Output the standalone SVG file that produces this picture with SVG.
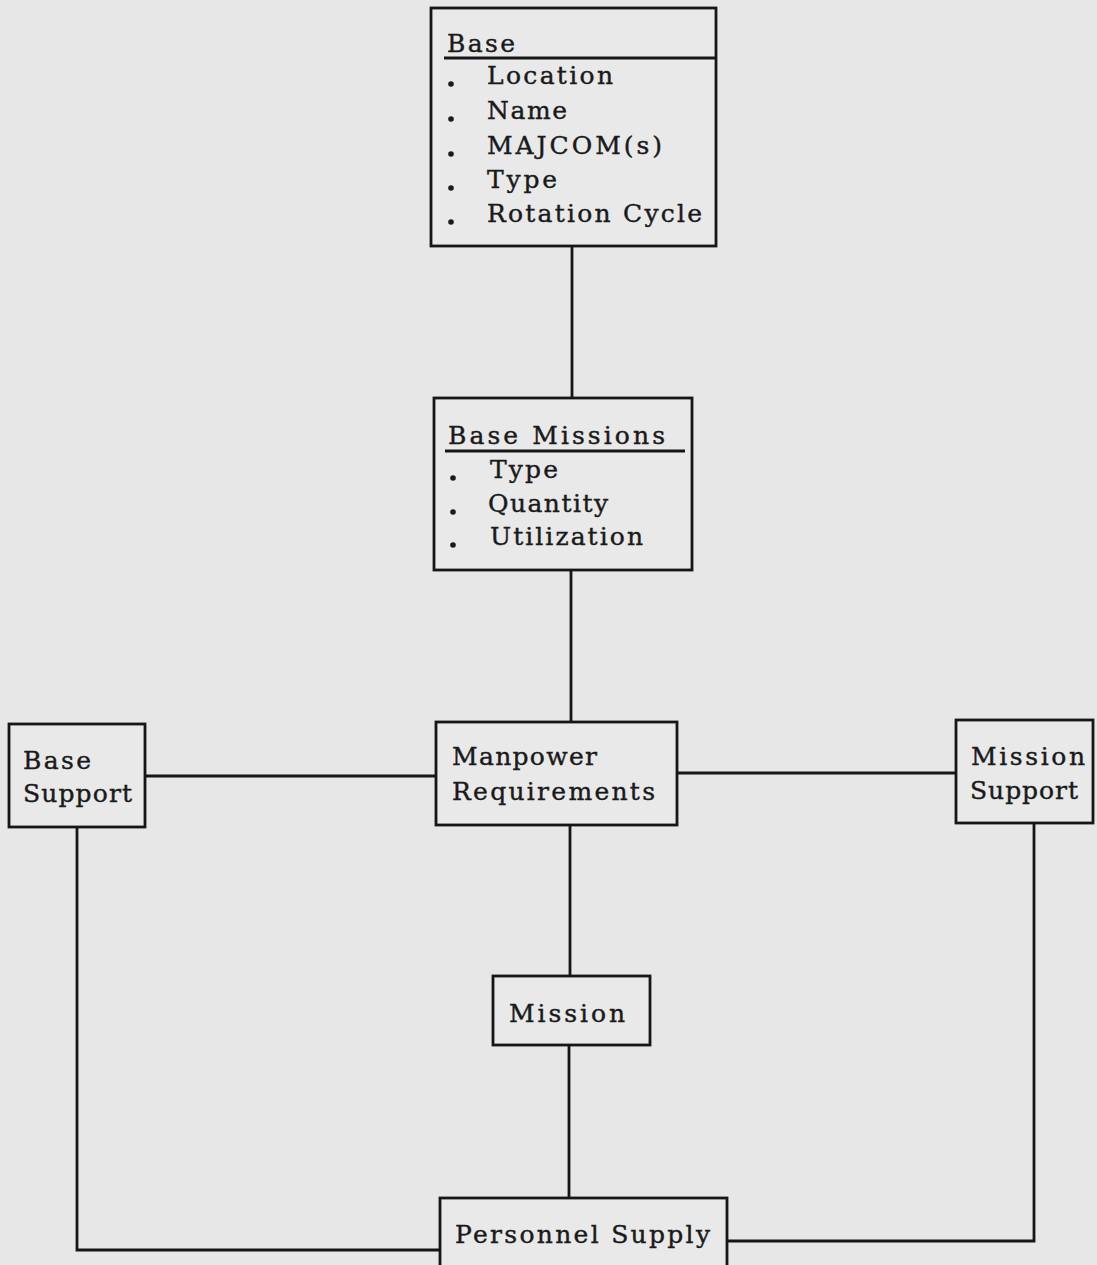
<svg xmlns="http://www.w3.org/2000/svg" width="1097" height="1265" viewBox="0 0 1097 1265">
<style>
.bg{fill:#e7e7e7}
.box{fill:#e9e9e9;stroke:#161616;stroke-width:2.8}
.ln{fill:none;stroke:#161616;stroke-width:2.8}
.t{font-family:"DejaVu Serif","Liberation Serif",serif;font-size:25px;fill:#1a1a1a;stroke:#1a1a1a;stroke-width:0.4}
.dot{fill:#1a1a1a}
</style>
<rect class="bg" x="0" y="0" width="1097" height="1265"/>
<g id="connectors">
<line class="ln" x1="572" y1="246" x2="572" y2="398"/>
<line class="ln" x1="571" y1="570" x2="571" y2="722"/>
<line class="ln" x1="145" y1="776" x2="436" y2="776"/>
<line class="ln" x1="677" y1="773" x2="956" y2="773"/>
<line class="ln" x1="570" y1="825" x2="570" y2="976"/>
<line class="ln" x1="569" y1="1045" x2="569" y2="1198"/>
<polyline class="ln" points="77,827 77,1250 440,1250"/>
<polyline class="ln" points="1034,823 1034,1241 727,1241"/>
</g>
<g id="base">
<rect class="box" x="431" y="8" width="285" height="238"/>
<line class="ln" x1="444" y1="58" x2="716" y2="58"/>
<text class="t" x="447" y="52" textLength="68" lengthAdjust="spacing">Base</text>
<circle class="dot" cx="451" cy="84" r="2.8"/><text class="t" x="487" y="84" textLength="126" lengthAdjust="spacing">Location</text>
<circle class="dot" cx="451" cy="119" r="2.8"/><text class="t" x="487" y="119" textLength="80" lengthAdjust="spacing">Name</text>
<circle class="dot" cx="451" cy="154" r="2.8"/><text class="t" x="487" y="154" textLength="175" lengthAdjust="spacing">MAJCOM(s)</text>
<circle class="dot" cx="451" cy="188" r="2.8"/><text class="t" x="487" y="188" textLength="70" lengthAdjust="spacing">Type</text>
<circle class="dot" cx="451" cy="222" r="2.8"/><text class="t" x="487" y="222" textLength="215" lengthAdjust="spacing">Rotation Cycle</text>
</g>
<g id="base-missions">
<rect class="box" x="434" y="398" width="258" height="172"/>
<line class="ln" x1="445" y1="451" x2="685" y2="451"/>
<text class="t" x="448" y="444" textLength="217" lengthAdjust="spacing">Base Missions</text>
<circle class="dot" cx="453" cy="478" r="2.8"/><text class="t" x="490" y="478" textLength="68" lengthAdjust="spacing">Type</text>
<circle class="dot" cx="453" cy="512" r="2.8"/><text class="t" x="488" y="512" textLength="120" lengthAdjust="spacing">Quantity</text>
<circle class="dot" cx="453" cy="545" r="2.8"/><text class="t" x="490" y="545" textLength="153" lengthAdjust="spacing">Utilization</text>
</g>
<g id="base-support">
<rect class="box" x="9" y="724" width="136" height="103"/>
<text class="t" x="23" y="769" textLength="68" lengthAdjust="spacing">Base</text>
<text class="t" x="23" y="802" textLength="109" lengthAdjust="spacing">Support</text>
</g>
<g id="manpower">
<rect class="box" x="436" y="722" width="241" height="103"/>
<text class="t" x="452" y="765" textLength="145" lengthAdjust="spacing">Manpower</text>
<text class="t" x="452" y="800" textLength="203" lengthAdjust="spacing">Requirements</text>
</g>
<g id="mission-support">
<rect class="box" x="956" y="720" width="137" height="103"/>
<text class="t" x="971" y="765" textLength="114" lengthAdjust="spacing">Mission</text>
<text class="t" x="970" y="799" textLength="108" lengthAdjust="spacing">Support</text>
</g>
<g id="mission">
<rect class="box" x="493" y="976" width="157" height="69"/>
<text class="t" x="509" y="1022" textLength="116" lengthAdjust="spacing">Mission</text>
</g>
<g id="personnel-supply">
<rect class="box" x="440" y="1198" width="287" height="80"/>
<text class="t" x="455" y="1243" textLength="255" lengthAdjust="spacing">Personnel Supply</text>
</g>
</svg>
